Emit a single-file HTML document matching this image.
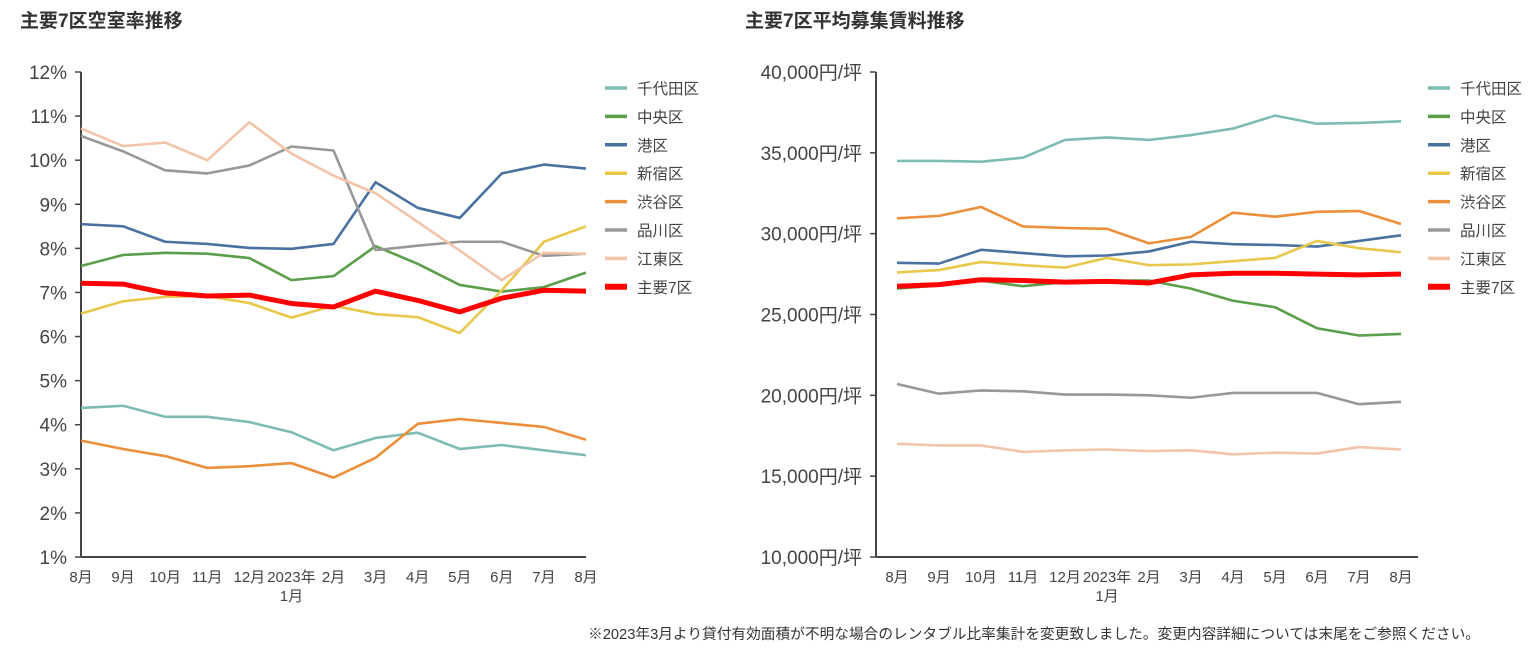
<!DOCTYPE html>
<html><head><meta charset="utf-8"><style>
body{margin:0;background:#fff;width:1536px;height:654px;overflow:hidden;font-family:"Liberation Sans","Noto Sans CJK JP",sans-serif}
svg text{font-family:"Liberation Sans","Noto Sans CJK JP",sans-serif}
</style></head><body>
<svg id="svg" width="1536" height="654">
<text x="20" y="27" font-size="19" font-weight="bold" fill="#333">主要7区空室率推移</text>
<text x="745" y="27" font-size="19" font-weight="bold" fill="#333">主要7区平均募集賃料推移</text>
<text x="588" y="639" font-size="14.5" fill="#333" textLength="892" lengthAdjust="spacingAndGlyphs">※2023年3月より貸付有効面積が不明な場合のレンタブル比率集計を変更致しました。変更内容詳細については末尾をご参照ください。</text>
<g id="left"></g><g id="right"></g>
</svg>
<script>
const categories=["8月","9月","10月","11月","12月","2023年","2月","3月","4月","5月","6月","7月","8月"];
const seriesNames=["千代田区","中央区","港区","新宿区","渋谷区","品川区","江東区","主要7区"];
const seriesColors=["#7dbcb4","#5b9e4b","#4a72a0","#e8c84a","#ec8f3a","#989898","#f2c4aa","#ff0000"];
const leftTicks=[1,2,3,4,5,6,7,8,9,10,11,12];
const rightTicks=[10000,15000,20000,25000,30000,35000,40000];
const vChiyoda=[4.38,4.43,4.18,4.18,4.06,3.83,3.42,3.70,3.82,3.45,3.54,3.42,3.31];
const vChuo=[7.60,7.85,7.90,7.88,7.78,7.28,7.37,8.05,7.65,7.17,7.02,7.12,7.45];
const vMinato=[8.55,8.50,8.15,8.10,8.01,7.99,8.10,9.50,8.92,8.69,9.70,9.90,9.81];
const vShinjuku=[6.52,6.80,6.90,6.92,6.76,6.43,6.70,6.51,6.44,6.08,7.05,8.15,8.50];
const vShibuya=[3.64,3.45,3.29,3.02,3.06,3.13,2.80,3.25,4.02,4.13,4.04,3.95,3.66];
const vShinagawa=[10.55,10.20,9.77,9.70,9.88,10.31,10.22,7.96,8.06,8.15,8.15,7.83,7.88];
const vKoto=[10.72,10.32,10.40,10.00,10.86,10.15,9.65,9.25,8.60,7.95,7.28,7.90,7.88];
const vMain=[7.21,7.19,6.99,6.92,6.94,6.75,6.67,7.03,6.82,6.56,6.87,7.05,7.03];
const rChiyoda=[34500,34500,34450,34700,35800,35950,35800,36100,36500,37300,36800,36850,36950];
const rChuo=[26600,26800,27100,26750,27000,27100,27100,26600,25850,25450,24150,23700,23800];
const rMinato=[28200,28150,29000,28800,28600,28650,28900,29500,29350,29300,29200,29550,29900];
const rShinjuku=[27600,27750,28250,28050,27900,28500,28050,28100,28300,28500,29550,29100,28850];
const rShibuya=[30950,31100,31650,30450,30350,30300,29400,29800,31300,31050,31350,31400,30600];
const rShinagawa=[20700,20100,20300,20250,20050,20050,20000,19850,20150,20150,20150,19450,19600];
const rKoto=[17000,16900,16900,16500,16600,16650,16550,16600,16350,16450,16400,16800,16650];
const rMain=[26750,26850,27150,27100,27000,27050,26950,27450,27550,27550,27500,27450,27500];
const NS="http://www.w3.org/2000/svg";
function mk(p,tag,a){const e=document.createElementNS(NS,tag);for(const k in a)e.setAttribute(k,a[k]);p.appendChild(e);return e;}
function chart(g,o){
 const yS=v=>o.y1-(v-o.vmin)/(o.vmax-o.vmin)*(o.y1-o.y0);
 const xS=i=>o.x0+i*(o.x1-o.x0)/(categories.length-1);
 let ax=mk(g,"line",{x1:o.ax,y1:o.y0,x2:o.ax,y2:o.y1,stroke:"#444","stroke-width":2});
 
 
 let bx=mk(g,"line",{x1:o.ax,y1:o.y1,x2:o.axEnd,y2:o.y1,stroke:"#444","stroke-width":2});
 
 
 o.ticks.forEach(t=>{
  mk(g,"line",{x1:o.ax-6,y1:yS(t),x2:o.ax,y2:yS(t),stroke:"#444","stroke-width":1.5});
  let tx=mk(g,"text",{x:o.ax-14,y:yS(t)+7,"font-size":19,fill:"#444","text-anchor":"end"});
  tx.textContent=o.fmt(t);
  
  
 });
 categories.forEach((c,i)=>{
  let tx=mk(g,"text",{x:xS(i),y:582,"font-size":15,fill:"#444","text-anchor":"middle"});
  tx.textContent=c;
  
  
  if(i==5){let t2=mk(g,"text",{x:xS(i),y:601,"font-size":15,fill:"#444","text-anchor":"middle"});t2.textContent="1月";
  
  }
 });
 o.data.forEach((d,s)=>{
  let pl=mk(g,"polyline",{points:d.map((v,i)=>xS(i)+","+yS(v)).join(" "),fill:"none",stroke:seriesColors[s],"stroke-width":s==7?5:2.6,"stroke-linejoin":"round"});
  
  
  const ly=88+s*28.4;
  let ll=mk(g,"line",{x1:o.lx,y1:ly,x2:o.lx+22,y2:ly,stroke:seriesColors[s],"stroke-width":s==7?6:3.5});
  
  
  let lt=mk(g,"text",{x:o.lx+32,y:ly+6,"font-size":15.5,fill:"#444"});
  lt.textContent=seriesNames[s];
  
  
 });
}
chart(document.getElementById("left"),{p:"vacancy",ax:81,axEnd:586,x0:81,x1:586,y0:72,y1:557,vmin:1,vmax:12,ticks:leftTicks,fmt:t=>t+"%",lx:605,
 data:[vChiyoda,vChuo,vMinato,vShinjuku,vShibuya,vShinagawa,vKoto,vMain]});
chart(document.getElementById("right"),{p:"rent",ax:876,axEnd:1418,x0:897,x1:1401,y0:72,y1:557,vmin:10000,vmax:40000,ticks:rightTicks,fmt:t=>t.toLocaleString("en-US")+"円/坪",lx:1428,
 data:[rChiyoda,rChuo,rMinato,rShinjuku,rShibuya,rShinagawa,rKoto,rMain]});
</script>
</body></html>
